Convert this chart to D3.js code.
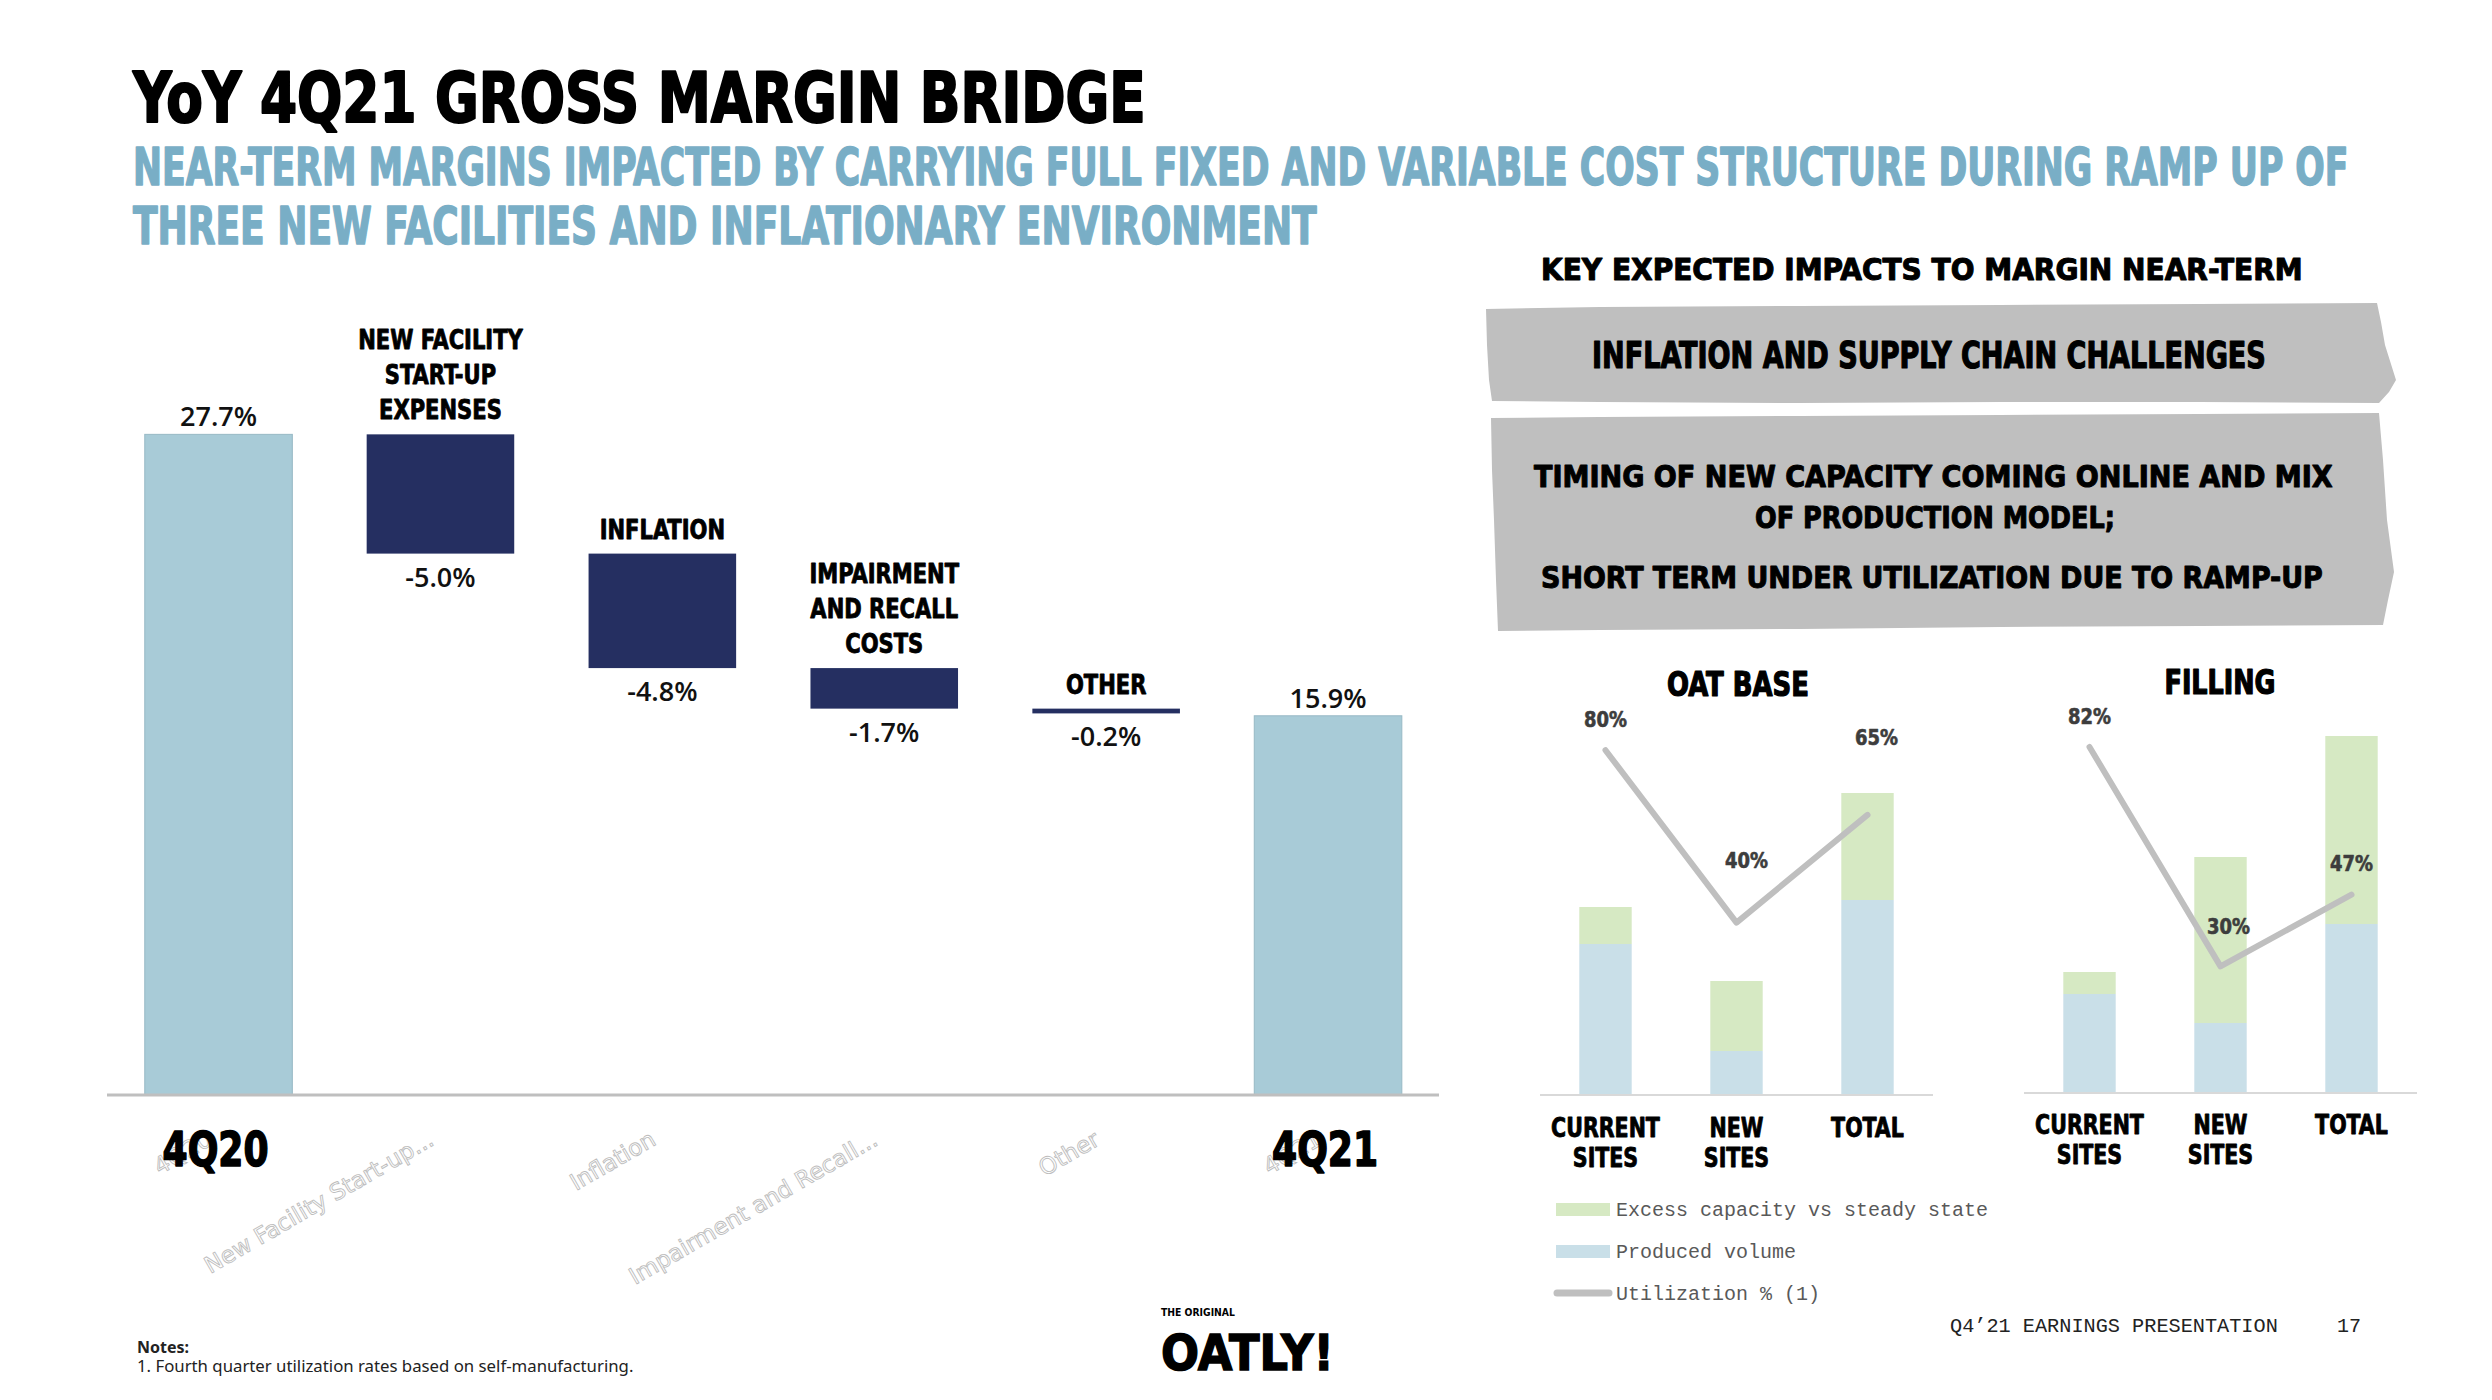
<!DOCTYPE html>
<html><head><meta charset="utf-8">
<script src="https://cdn.jsdelivr.net/npm/d3@7"></script>
<style>html,body{margin:0;padding:0;background:#fff;} svg{display:block;}</style>
</head><body>
<svg id="chart" width="2492" height="1400"></svg>
<script>
// ---------- DATA ----------
const wfCategories = ["4Q20", "New Facility Start-up Expenses", "Inflation", "Impairment and Recall Costs", "Other", "4Q21"];
const wfAxisLabels = ["4Q20", "New Facility Start-up...", "Inflation", "Impairment and Recall...", "Other", "4Q21"];
const wfValues = [27.7, -5.0, -4.8, -1.7, -0.2, 15.9];
const wfTypes = ["total", "delta", "delta", "delta", "delta", "total"];
const wfValueLabels = ["27.7%", "-5.0%", "-4.8%", "-1.7%", "-0.2%", "15.9%"];
const wfHeaders = [[], ["NEW FACILITY", "START-UP", "EXPENSES"], ["INFLATION"], ["IMPAIRMENT", "AND RECALL", "COSTS"], ["OTHER"], []];

const siteCategories = ["CURRENT SITES", "NEW SITES", "TOTAL"];
const siteLabelLines = [["CURRENT", "SITES"], ["NEW", "SITES"], ["TOTAL"]];
const oatProduced = [151, 44, 195];
const oatExcess = [37, 70, 107];
const oatUtil = [80, 40, 65];
const fillProduced = [99, 70, 169];
const fillExcess = [22, 166, 188];
const fillUtil = [82, 30, 47];

const legendItems = ["Excess capacity vs steady state", "Produced volume", "Utilization % (1)"];
const keyImpacts = [["INFLATION AND SUPPLY CHAIN CHALLENGES"],
  ["TIMING OF NEW CAPACITY COMING ONLINE AND MIX", "OF PRODUCTION MODEL;", "SHORT TERM UNDER UTILIZATION DUE TO RAMP-UP"]];

// ---------- STYLE ----------
const DISPLAY = "'DejaVu Sans Condensed','Liberation Sans Narrow','DejaVu Sans',sans-serif";
const MONO = "'Liberation Mono','DejaVu Sans Mono',monospace";
const NAVY = "#252f61", LIGHTBLUE = "#a8cbd7", GREEN = "#d6e9c3", PALEBLUE = "#c9dfe8", LINEGRAY = "#bfbfbf", SUBBLUE = "#79aec6";

const svg = d3.select("#chart");

// place a text at (x,y) and squeeze it horizontally, either to a target width or by a factor
function placeText(parent, x, y, str, style, opts = {}) {
  const t = parent.append("text").attr("x", 0).attr("y", 0).text(str);
  Object.entries(style).forEach(([k, v]) => t.attr(k, v));
  let s = opts.factor || 1;
  if (opts.width) s = opts.width / t.node().getComputedTextLength();
  t.attr("transform", `translate(${x},${y}) scale(${s},1)`);
  return t;
}
const disp = (size, fill = "#000", anchor = "start", sw = 0) => ({ "font-family": DISPLAY, "font-weight": 700, "font-size": size, "fill": fill,
  "text-anchor": anchor, "stroke": sw ? fill : "none", "stroke-width": sw, "stroke-linejoin": "round" });

// ---------- HEADINGS ----------
placeText(svg, 133, 122, "YoY 4Q21 GROSS MARGIN BRIDGE", disp(69, "#000", "start", 2), { width: 1013 });
placeText(svg, 133, 185, "NEAR-TERM MARGINS IMPACTED BY CARRYING FULL FIXED AND VARIABLE COST STRUCTURE DURING RAMP UP OF", disp(52, SUBBLUE, "start", 1.5), { width: 2216 });
placeText(svg, 133, 244, "THREE NEW FACILITIES AND INFLATIONARY ENVIRONMENT", disp(52, SUBBLUE, "start", 1.5), { width: 1184 });

// ---------- WATERFALL ----------
const x = d3.scaleBand().domain(wfCategories).range([107.6, 107.6 + 6 * 221.9]).paddingInner(0.335).paddingOuter(0.1675);
const y = d3.scaleLinear().domain([0, 30]).range([1095, 1095 - 30 * 23.85]);
const cx = c => x(c) + x.bandwidth() / 2;

let running = 0;
const wf = wfCategories.map((c, i) => {
  const v = wfValues[i];
  let lo, hi;
  if (wfTypes[i] === "total") { lo = 0; hi = v; running = v; }
  else { hi = running; lo = running + v; running = lo; }
  return { c, v, lo, hi, type: wfTypes[i], label: wfValueLabels[i], head: wfHeaders[i], axis: wfAxisLabels[i] };
});

// ghost category axis labels (rotated outline text)
svg.append("g").selectAll("text").data(wf).join("text")
  .attr("transform", d => `translate(${cx(d.c) - 5},1144) rotate(-30)`)
  .attr("text-anchor", "end").attr("font-family", "'DejaVu Sans',sans-serif").attr("font-size", 23)
  .attr("fill", "#fff").attr("stroke", "#bdbdbd").attr("stroke-width", 0.9)
  .text(d => d.axis);

svg.append("g").selectAll("rect").data(wf).join("rect")
  .attr("x", d => x(d.c)).attr("width", x.bandwidth())
  .attr("y", d => y(d.hi)).attr("height", d => Math.max(y(d.lo) - y(d.hi), 1))
  .attr("fill", d => d.type === "total" ? LIGHTBLUE : NAVY)
  .attr("stroke", d => d.type === "total" ? "#97b9c5" : "none").attr("stroke-width", 1);

svg.append("line").attr("x1", 107).attr("x2", 1439).attr("y1", 1095).attr("y2", 1095)
  .attr("stroke", LINEGRAY).attr("stroke-width", 3);

// value labels
svg.append("g").selectAll("text").data(wf).join("text")
  .attr("x", d => cx(d.c))
  .attr("y", d => d.type === "total" ? y(d.hi) - 8 : y(d.lo) + 33)
  .attr("text-anchor", "middle").attr("font-family", "'Open Sans',sans-serif").attr("font-weight", 600)
  .attr("font-size", 27).attr("fill", "#111").text(d => d.label);

// headers above floating bars
const hdr = svg.append("g");
wf.filter(d => d.head.length).forEach(d => {
  const n = d.head.length;
  d.head.forEach((ln, j) => placeText(hdr, cx(d.c), y(d.hi) - 15 - (n - 1 - j) * 35, ln, disp(26, "#000", "middle", 0.8), { factor: 0.9 }));
});

// bold axis labels for totals
const tl = svg.append("g");
wf.filter(d => d.type === "total").forEach(d => {
  placeText(tl, cx(d.c) - 3, 1166, d.c, disp(48, "#000", "middle", 1.5), { width: 106 });
});

// ---------- KEY IMPACTS ----------
placeText(svg, 1541, 280, "KEY EXPECTED IMPACTS TO MARGIN NEAR-TERM", disp(30, "#000", "start", 1), { width: 762 });

const shape = d3.line().curve(d3.curveLinearClosed);
svg.append("path").attr("fill", "#bfbfbf").attr("d", shape([
  [1486, 309], [1600, 307], [1800, 306], [2000, 305], [2200, 304], [2377, 303], [2381, 322], [2385, 345],
  [2396, 380], [2389, 392], [2379, 403], [2200, 402], [2000, 402], [1800, 403], [1600, 402], [1492, 401],
  [1489, 380], [1487, 345]]));
svg.append("path").attr("fill", "#bfbfbf").attr("d", shape([
  [1491, 418], [1600, 417], [1800, 416], [2000, 415], [2200, 414], [2379, 413], [2383, 460], [2387, 520],
  [2394, 572], [2388, 600], [2383, 625], [2200, 626], [2000, 627], [1800, 629], [1600, 630], [1498, 631],
  [1496, 580], [1494, 520], [1492, 470]]));

placeText(svg, 1592, 368, keyImpacts[0][0], disp(37, "#000", "start", 1.2), { width: 674 });
[[1534, 487, 799], [1755, 528, 360], [1541, 588, 782]].forEach((p, i) => {
  placeText(svg, p[0], p[1], keyImpacts[1][i], disp(31, "#000", "start", 1), { width: p[2] });
});

// ---------- SMALL CHARTS ----------
function smallChart(opts) {
  const { title, titleX, titleY, titleW, x0, base, produced, excess, util, utilTop, labelDy, labelDx, catY } = opts;
  const g = svg.append("g");
  const xs = d3.scaleBand().domain(siteCategories).range([x0, x0 + 393]).paddingInner(0.6).paddingOuter(0.3);
  const ys = d3.scaleLinear().domain([0, 400]).range([base, base - 400]);
  const yu = d3.scaleLinear().domain([0, 100]).range([base, utilTop]);
  placeText(g, titleX, titleY, title, disp(33, "#000", "middle", 1.2), { width: titleW });
  const rows = siteCategories.map((c, i) => ({ c, p: produced[i], e: excess[i], u: util[i], i }));
  g.selectAll(".p").data(rows).join("rect").attr("x", d => xs(d.c)).attr("width", xs.bandwidth())
    .attr("y", d => ys(d.p)).attr("height", d => ys(0) - ys(d.p)).attr("fill", PALEBLUE);
  g.selectAll(".e").data(rows).join("rect").attr("x", d => xs(d.c)).attr("width", xs.bandwidth())
    .attr("y", d => ys(d.p + d.e)).attr("height", d => ys(d.p) - ys(d.p + d.e)).attr("fill", GREEN);
  g.append("line").attr("x1", x0).attr("x2", x0 + 393).attr("y1", base).attr("y2", base)
    .attr("stroke", "#d9d9d9").attr("stroke-width", 2);
  g.append("path").datum(rows).attr("fill", "none").attr("stroke", LINEGRAY).attr("stroke-width", 6)
    .attr("stroke-linecap", "round").attr("stroke-linejoin", "round")
    .attr("d", d3.line().x(d => xs(d.c) + xs.bandwidth() / 2).y(d => yu(d.u)));
  rows.forEach(d => placeText(g, xs(d.c) + xs.bandwidth() / 2 + labelDx[d.i], yu(d.u) + labelDy[d.i], d.u + "%",
    disp(21, "#3d3d3d", "middle", 0.6), { factor: 0.95 }));
  siteCategories.forEach((c, i) => {
    siteLabelLines[i].forEach((ln, j) => placeText(g, xs(c) + xs.bandwidth() / 2, catY + j * 29.5, ln, disp(26, "#000", "middle", 0.8), { factor: 0.88 }));
  });
}
smallChart({ title: "OAT BASE", titleX: 1738, titleY: 696, titleW: 142, x0: 1540, base: 1095, produced: oatProduced, excess: oatExcess,
  util: oatUtil, utilTop: 664, labelDy: [-23, -55, -70], labelDx: [0, 10, 9], catY: 1137 });
smallChart({ title: "FILLING", titleX: 2220, titleY: 694, titleW: 111, x0: 2024, base: 1093, produced: fillProduced, excess: fillExcess,
  util: fillUtil, utilTop: 671, labelDy: [-23, -32, -24], labelDx: [0, 8, 0], catY: 1134 });

// ---------- LEGEND ----------
const lg = svg.append("g");
lg.append("rect").attr("x", 1556).attr("y", 1203).attr("width", 54).attr("height", 13).attr("fill", GREEN);
lg.append("rect").attr("x", 1556).attr("y", 1245).attr("width", 54).attr("height", 13).attr("fill", PALEBLUE);
lg.append("line").attr("x1", 1557).attr("x2", 1609).attr("y1", 1293).attr("y2", 1293).attr("stroke", LINEGRAY)
  .attr("stroke-width", 7).attr("stroke-linecap", "round");
legendItems.forEach((t, i) => {
  lg.append("text").attr("x", 1616).attr("y", [1216, 1258, 1300][i]).attr("font-family", MONO).attr("font-size", 20)
    .attr("fill", "#595959").text(t);
});

// ---------- FOOTER ----------
placeText(svg, 1950, 1332, "Q4\u201921 EARNINGS PRESENTATION", { "font-family": MONO, "font-size": 20, "fill": "#222" }, { width: 328 });
svg.append("text").attr("x", 2337).attr("y", 1332).attr("font-family", MONO).attr("font-size", 20)
  .attr("fill", "#222").text("17");
svg.append("text").attr("x", 137).attr("y", 1353).attr("font-family", "'Noto Sans',sans-serif").attr("font-weight", 700)
  .attr("font-size", 16).attr("fill", "#222").text("Notes:");
placeText(svg, 137, 1372, "1. Fourth quarter utilization rates based on self-manufacturing.",
  { "font-family": "'Noto Sans',sans-serif", "font-size": 16, "fill": "#222" }, { width: 497 });

// logo
placeText(svg, 1161, 1316, "THE ORIGINAL", disp(10), { width: 74 });
placeText(svg, 1161, 1370, "OATLY!", { "font-family": "'DejaVu Sans',sans-serif", "font-weight": 900, "font-size": 50, "fill": "#000",
  "stroke": "#000", "stroke-width": 1.5 }, { width: 173 });
</script></body></html>
